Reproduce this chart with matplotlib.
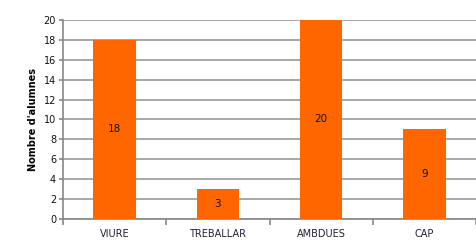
import matplotlib
matplotlib.use("Agg")
import matplotlib.pyplot as plt
import numpy as np

categories = ["VIURE", "TREBALLAR", "AMBDUES", "CAP"]
values = [18, 3, 20, 9]

fig = plt.figure(figsize=(4.77, 2.46), dpi=100)
ax = fig.add_axes([0.132, 0.11, 0.866, 0.809])

x = np.arange(len(categories))
ax.bar(x, values, width=0.41, color="#FF6600", zorder=3)

for xi, v in zip(x, values):
    ax.text(xi, v / 2, str(v), ha="center", va="center", fontsize=7.5, color="#111111", zorder=4)

ax.set_xlim(-0.5, 3.5)
ax.set_ylim(0, 20)
ax.set_yticks(range(0, 21, 2))
ax.yaxis.grid(True, color="#999999", linewidth=1.2, zorder=0)

ax.set_xticks(x)
ax.set_xticklabels(categories, fontsize=7, color="#222233")
ax.tick_params(axis="x", length=0, pad=7)
ax.set_xticks(np.arange(-0.5, 4, 1), minor=True)
ax.tick_params(axis="x", which="minor", length=4, color="#888888", width=1.2)
ax.tick_params(axis="y", labelsize=7, length=3, color="#888888", width=1.2, pad=2, labelcolor="#111111")

ax.set_ylabel("Nombre d'alumnes", fontsize=7, fontweight="bold", labelpad=4)

for side in ["top", "right"]:
    ax.spines[side].set_visible(False)
ax.spines["left"].set_color("#888888")
ax.spines["left"].set_linewidth(1.2)
ax.spines["bottom"].set_color("#888888")
ax.spines["bottom"].set_linewidth(1.2)

fig.savefig("out.png", dpi=100)
